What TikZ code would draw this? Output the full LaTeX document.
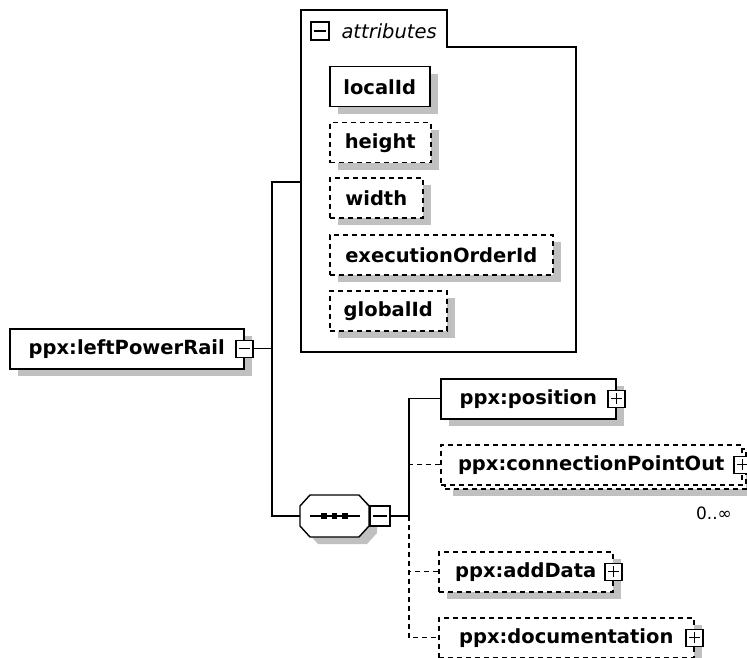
\documentclass[tikz,border=0pt]{standalone}
\usepackage{fontspec}
\setmainfont{DejaVu Sans}
\usetikzlibrary{shadows}
\definecolor{shadowgray}{RGB}{192,192,192}
\newcommand{\elemfont}{\fontsize{19.5}{22}\selectfont\bfseries}
\newcommand{\notefont}{\fontsize{17}{19}\selectfont}

\tikzset{
 elem/.style={draw,line width=1.5pt,fill=white,minimum height=40pt,inner sep=0pt,
   font=\elemfont,anchor=north west,
   drop shadow={shadow xshift=8pt,shadow yshift=-7pt,fill=shadowgray,opacity=1}},
 optelem/.style={elem,dash pattern=on 5pt off 4pt},
 bare/.style={draw,line width=1.5pt,fill=white,minimum height=40pt,inner sep=0pt,
   font=\elemfont,anchor=north west,dash pattern=on 5pt off 4pt},
 pmbox/.style={draw,solid,fill=white,line width=1.3pt,minimum size=17pt,inner sep=0pt},
 minus/.style={pmbox,path picture={
   \draw[line width=1.3pt] ([xshift=3pt]path picture bounding box.west)
     -- ([xshift=-3pt]path picture bounding box.east);}},
 plus/.style={pmbox,path picture={
   \draw[line width=1.3pt] ([xshift=3pt]path picture bounding box.west)
     -- ([xshift=-3pt]path picture bounding box.east);
   \draw[line width=1.3pt] ([yshift=3pt]path picture bounding box.south)
     -- ([yshift=-3pt]path picture bounding box.north);}},
 link/.style={line width=1.4pt},
 optlink/.style={line width=1.4pt,dash pattern=on 5pt off 4pt},
}

\begin{document}
\begin{tikzpicture}[x=1pt,y=-1pt]
\useasboundingbox[fill=white] (0,0) rectangle (747,658);

% attributes group
\draw[line width=1.4pt] (301,10) -- (447,10) -- (447,47) -- (576,47)
  -- (576,352) -- (301,352) -- cycle;
\node[minus,minimum size=18pt] (attrpm) at (320,31) {};
\node[anchor=west,font=\fontsize{19.5}{21}\selectfont\itshape] (attrlbl) at (338,31) {attributes};
\coordinate (attrin) at (301,182);

\node[elem,minimum width=100pt] (localid) at (329,66) {localId};
\node[optelem,minimum width=101pt] (height) at (329,122) {height};
\node[optelem,minimum width=93pt] (width) at (329,177) {width};
\node[optelem,minimum width=223pt] (execid) at (329,234) {executionOrderId};
\node[optelem,minimum width=117pt] (globalid) at (329,290) {globalId};

% root element
\node[elem,minimum width=234pt] (root) at (9,328) {ppx:leftPowerRail\hspace{10pt}};
\node[minus] (rootpm) at (root.east) {};
\coordinate (rb) at (272,0);

% sequence
\fill[shadowgray] (308,513) -- (318,502) -- (367,502) -- (377,513) -- (377,533)
  -- (367,544) -- (318,544) -- (308,533) -- cycle;
\draw[line width=1.4pt,fill=white] (300,506) -- (310,495) -- (359,495) -- (369,506)
  -- (369,526) -- (359,537) -- (310,537) -- (300,526) -- cycle;
\node[minimum width=69pt,minimum height=42pt,inner sep=0pt] (seq) at (334.5,516) {};
\draw[link] ([xshift=10pt]seq.west) -- ([xshift=-9pt]seq.east);
\foreach \dx in {-10.5,0,10.5}
  \fill ([xshift=\dx pt]seq.center) +(-2.6,-2.6) rectangle +(2.6,2.6);
\node[minus,minimum size=20pt,anchor=west] (seqpm) at (seq.east) {};
\coordinate (sb) at (409,0);

% children
\node[elem,minimum width=175pt] (position) at (440,378) {ppx:position\hspace{11pt}};
\node[plus] (positionpm) at (position.east) {};
\node[optelem,minimum width=301pt] (cpoback) at (444,448) {};
\node[bare,minimum width=301pt] (cpo) at (440,444) {ppx:connectionPointOut\hspace{14pt}};
\node[plus] (cpopm) at (cpo.east) {};
\node[font=\notefont] (cpomult) at (714,513) {0..∞};
\node[optelem,minimum width=174pt] (adddata) at (438,551) {ppx:addData\hspace{12pt}};
\node[plus] (adddatapm) at (adddata.east) {};
\node[optelem,minimum width=255pt] (doc) at (438,617) {ppx:documentation\hspace{12pt}};
\node[plus] (docpm) at (doc.east) {};

% connectors
\draw[link] (rootpm.east) -- (rootpm.east -| rb);
\draw[link] (attrin) -| (rb |- seq.west) -- (seq.west);
\draw[link] (seqpm.east) -- (seqpm.east -| sb);
\draw[link] (position.west) -| (seqpm.east -| sb);
\draw[optlink] (seqpm.east -| sb) |- (doc.west);
\draw[optlink] (cpo.west) -- (cpo.west -| sb);
\draw[optlink] (adddata.west) -- (adddata.west -| sb);
\end{tikzpicture}
\end{document}
